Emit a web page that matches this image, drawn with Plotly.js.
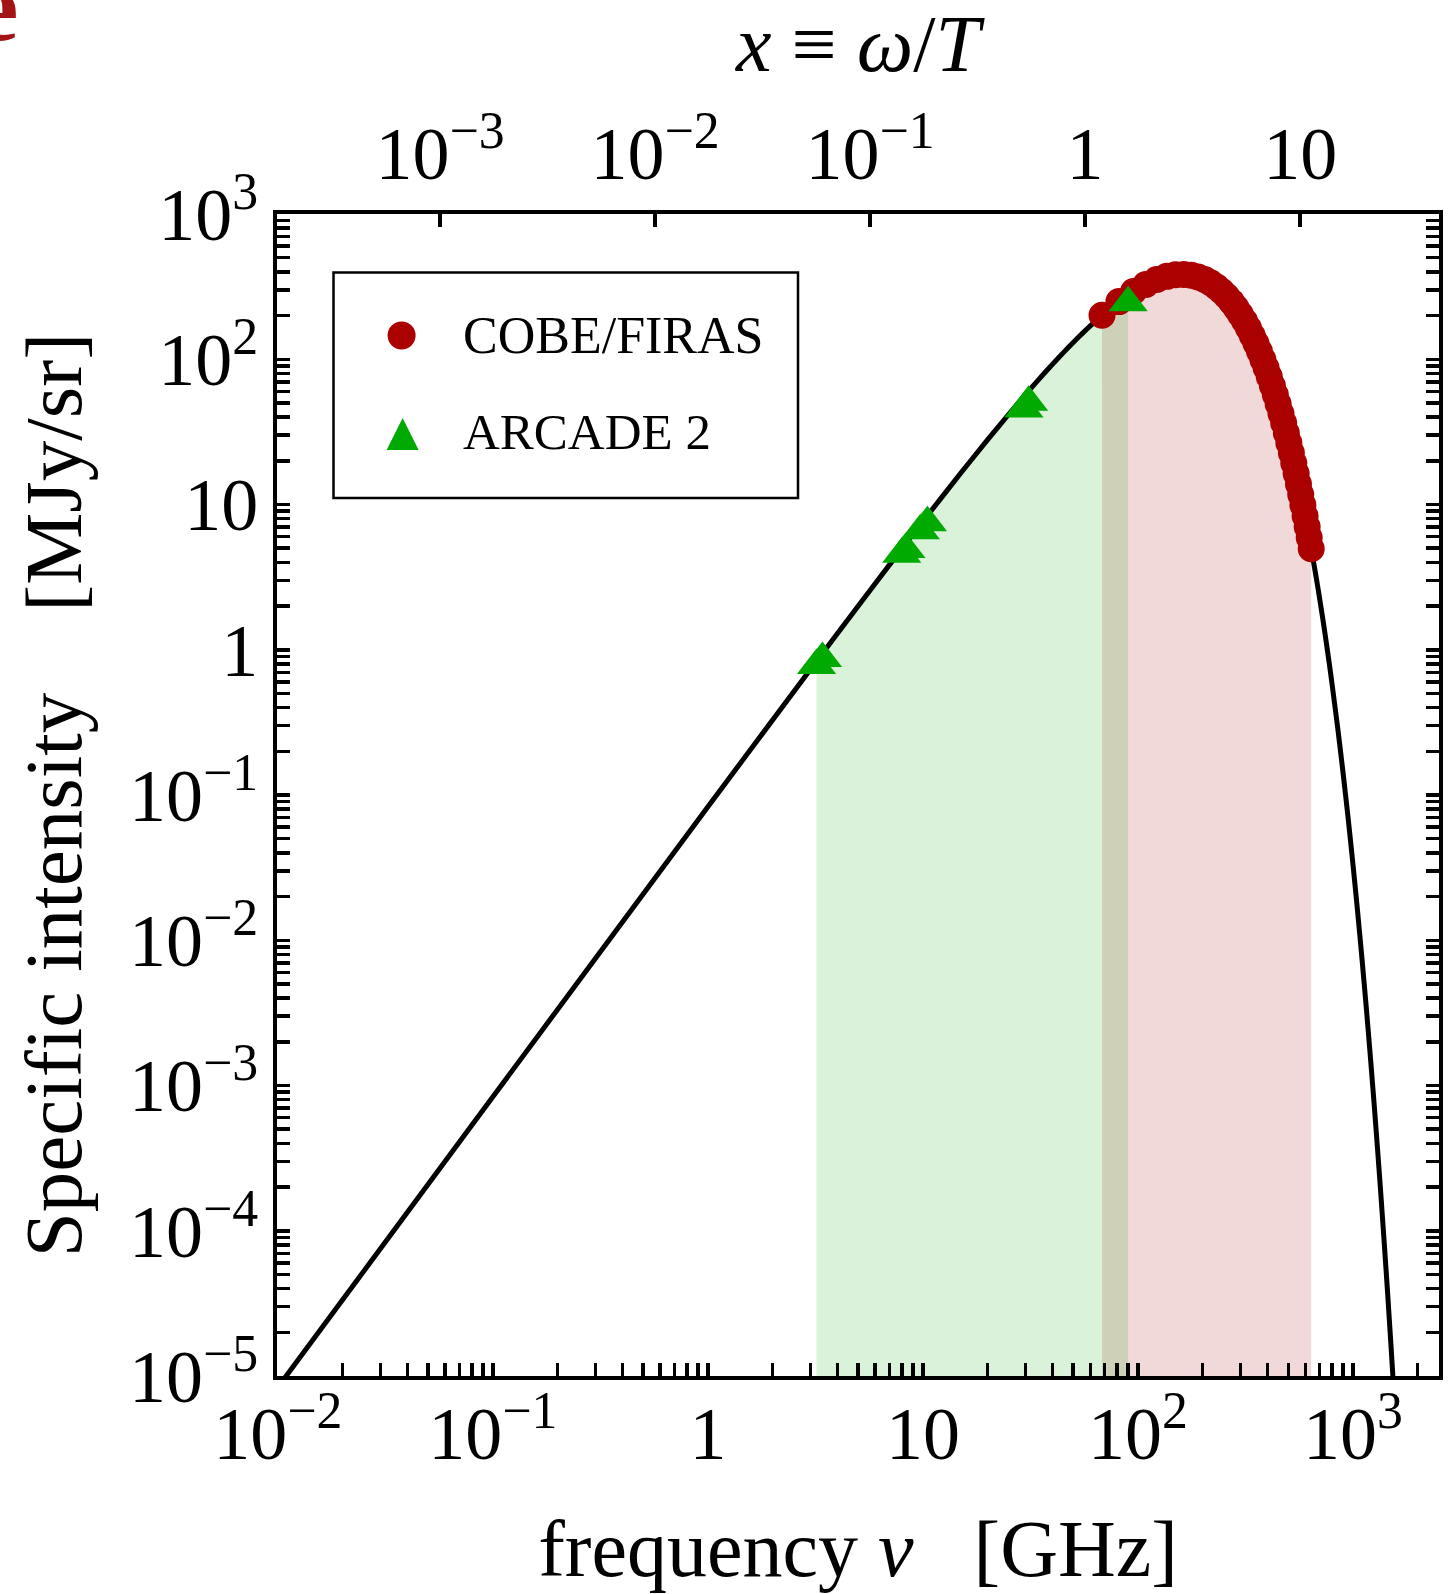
<!DOCTYPE html>
<html>
<head>
<meta charset="utf-8">
<script src="https://cdn.plot.ly/plotly-3.0.1.min.js"></script>
<style>
  html, body { margin: 0; padding: 0; background: #fff; }
  #chart { width: 1454px; height: 1594px; }
</style>
</head>
<body>
<div id="chart"></div>
<script>
// ---- Data ----
// Black curve: CMB spectrum, frequency [GHz] vs specific intensity [MJy/sr]
const curveFreq = [0.01, 0.1, 1, 3, 3.2, 5, 7, 10, 15, 20, 25, 30, 35, 40, 45, 50, 55, 60, 65, 68.05, 70, 75, 80, 85, 90, 100, 110, 120, 130, 140, 150, 160, 170, 180, 190, 200, 220, 250, 275, 300, 325, 350, 375, 400, 425, 450, 475, 500, 525, 550, 575, 600, 625, 639.45, 650, 675, 700, 725, 750, 775, 800, 850, 900, 950, 1000, 1050, 1100, 1150, 1200, 1250, 1300, 1350, 1400, 1450, 1500, 1550];
const curveInt  = [8.37e-6, 8.36e-4, 0.0830, 0.7337, 0.8334, 2.002, 3.855, 7.657, 16.459, 27.94, 41.648, 57.19, 74.18, 92.26, 111.14, 130.5, 150.10, 169.7, 189.06, 200.7, 208.1, 226.46, 244.2, 261.07, 277.1, 305.9, 330.4, 350.1, 365.2, 375.6, 381.68, 383.7, 381.95, 377.0, 369.15, 358.9, 332.9, 285.5, 243.58, 203.0, 165.9, 133.2, 105.45, 82.32, 63.62, 48.56, 36.81, 27.66, 20.62, 15.23, 11.222, 8.200, 5.975, 4.954, 4.321, 3.1206, 2.2385, 1.6032, 1.1409, 0.81195, 0.5743, 0.28598, 0.1404, 0.068602, 0.03310, 0.015917, 7.572e-3, 3.5933e-3, 1.690e-3, 7.9296e-4, 3.689e-4, 1.7164e-4, 7.918e-5, 3.6544e-5, 1.674e-5, 7.66e-6];

// COBE/FIRAS points
const firasFreq = [68.05, 81.54, 95.33, 108.82, 122.31, 136.10, 149.60, 163.39, 176.88, 190.37, 204.16, 217.65, 231.14, 244.93, 258.42, 272.21, 285.70, 299.19, 312.98, 326.47, 339.96, 353.75, 367.24, 381.03, 394.52, 408.01, 421.80, 435.30, 448.79, 462.58, 476.07, 489.86, 503.35, 516.84, 530.63, 544.12, 557.91, 571.40, 584.89, 598.68, 612.17, 625.66, 639.45];
const firasInt  = [200.7, 249.5, 293.0, 327.7, 354.0, 372.1, 381.5, 383.4, 378.8, 368.8, 354.1, 336.3, 316.1, 293.9, 271.4, 248.2, 225.9, 204.3, 183.2, 163.8, 145.8, 128.7, 113.5, 99.45, 87.02, 75.87, 65.75, 56.96, 49.22, 42.28, 36.34, 31.05, 26.56, 22.67, 19.24, 16.36, 13.83, 11.72, 9.911, 8.336, 7.028, 5.916, 4.954];

// ARCADE 2 points
const arcadeFreq = [3.20, 3.41, 7.97, 8.33, 9.72, 10.49, 29.5, 31.0, 90.0];
const arcadeInt  = [0.78, 0.87, 4.55, 4.9, 6.6, 7.5, 45.5, 50.5, 245];

// Axis ticks
const xTickVals = [0.01, 0.1, 1, 10, 100, 1000];
const xTickText = ['10<sup>\u22122</sup>', '10<sup>\u22121</sup>', '1', '10', '10<sup>2</sup>', '10<sup>3</sup>'];
const topTickVals = [0.001, 0.01, 0.1, 1, 10];
const topTickText = ['10<sup>\u22123</sup>', '10<sup>\u22122</sup>', '10<sup>\u22121</sup>', '1', '10'];
const yTickVals = [1e-5, 1e-4, 1e-3, 1e-2, 1e-1, 1, 10, 100, 1000];
const yTickText = ['10<sup>\u22125</sup>', '10<sup>\u22124</sup>', '10<sup>\u22123</sup>', '10<sup>\u22122</sup>', '10<sup>\u22121</sup>', '1', '10', '10<sup>2</sup>', '10<sup>3</sup>'];

const seriesNames = ['COBE/FIRAS', 'ARCADE 2'];
const firasColor = '#aa0000';
const arcadeColor = '#00aa00';

// GHz per unit of x = omega/T  (T = 2.725 K)
const ghzPerX = 56.78;

// ---- Geometry helpers (style, not data) ----
const xRangeLog = [-2.004, 3.40];
const yRangeLog = [-5, 3];
const floorY = 1e-6; // below the visible axis: fills reach the bottom frame

function minorTicks(lo, hi) {
  const v = [];
  for (let e = Math.floor(lo); e <= Math.ceil(hi); e++) {
    for (let m = 2; m <= 9; m++) {
      const t = m * Math.pow(10, e);
      const l = Math.log10(t);
      if (l > lo && l < hi) v.push(t);
    }
  }
  return v;
}

// fill regions
const arcLo = Math.min(...arcadeFreq), arcHi = Math.max(...arcadeFreq);
const gx = [], gy = [];
curveFreq.forEach((f, i) => { if (f >= arcLo && f <= arcHi) { gx.push(f); gy.push(curveInt[i]); } });
const greenX = gx.concat([arcHi, arcLo]);
const greenY = gy.concat([floorY, floorY]);
const redX = firasFreq.concat([firasFreq[firasFreq.length - 1], firasFreq[0]]);
const redY = firasInt.concat([floorY, floorY]);

const traces = [
  { x: redX, y: redY, mode: 'none', fill: 'toself', fillcolor: 'rgba(170,0,0,0.15)', hoverinfo: 'skip', showlegend: false },
  { x: greenX, y: greenY, mode: 'none', fill: 'toself', fillcolor: 'rgba(0,170,0,0.15)', hoverinfo: 'skip', showlegend: false },
  { x: curveFreq, y: curveInt, mode: 'lines', line: { color: 'black', width: 5, shape: 'spline', smoothing: 0.6 }, showlegend: false },
  { x: firasFreq, y: firasInt, mode: 'markers', name: seriesNames[0], marker: { color: firasColor, size: 27, symbol: 'circle' }, showlegend: false },
  { x: arcadeFreq, y: arcadeInt, mode: 'markers', name: seriesNames[1], marker: { color: arcadeColor, size: 34, symbol: 'triangle-up' }, showlegend: false },
  // empty trace so that the top x = omega/T axis is drawn
  { x: [], y: [], xaxis: 'x2', yaxis: 'y', mode: 'markers', showlegend: false, hoverinfo: 'skip' }
];

const serif = 'Liberation Serif, Times New Roman, serif';
const tickFont = { family: serif, size: 74, color: 'black' };
const L = 277, R = 15, T = 214, B = 218;
const W = 1454, H = 1594;
const pw = W - L - R, ph = H - T - B;
const px2x = p => (p - L) / pw;
const px2y = p => 1 - (p - T) / ph;

const layout = {
  width: W, height: H,
  margin: { l: L, r: R, t: T, b: B, pad: 0 },
  paper_bgcolor: 'white', plot_bgcolor: 'white',
  showlegend: false,
  font: { family: serif, color: 'black' },
  xaxis: {
    type: 'log', range: xRangeLog,
    tickmode: 'array', tickvals: xTickVals, ticktext: xTickText,
    ticks: 'inside', ticklen: 13, tickwidth: 3.5, tickcolor: 'black',
    minor: { tickmode: 'array', tickvals: minorTicks(xRangeLog[0], xRangeLog[1]), ticks: 'inside', ticklen: 13, tickwidth: 3.5, tickcolor: 'black', showgrid: false },
    showline: true, linewidth: 4, linecolor: 'black', mirror: false,
    showgrid: false, zeroline: false,
    tickfont: tickFont, ticklabelstandoff: -10,
    title: { text: 'frequency <i>\u03bd</i>\u00a0\u00a0\u00a0[GHz]', font: { family: serif, size: 80, color: 'black' }, standoff: 47 }
  },
  xaxis2: {
    type: 'log', overlaying: 'x', side: 'top', anchor: 'y',
    range: [xRangeLog[0] - Math.log10(ghzPerX), xRangeLog[1] - Math.log10(ghzPerX)],
    tickmode: 'array', tickvals: topTickVals, ticktext: topTickText,
    ticks: 'inside', ticklen: 13, tickwidth: 3.5, tickcolor: 'black',
    showline: true, linewidth: 4, linecolor: 'black',
    showgrid: false, zeroline: false,
    tickfont: tickFont, ticklabelstandoff: 1,
    title: { text: '<i>x</i> \u2261 <i>\u03c9</i>/<i>T</i>', font: { family: serif, size: 80, color: 'black' }, standoff: 25 }
  },
  yaxis: {
    type: 'log', range: yRangeLog,
    tickmode: 'array', tickvals: yTickVals, ticktext: yTickText,
    ticks: 'inside', ticklen: 13, tickwidth: 3.5, tickcolor: 'black',
    minor: { tickmode: 'array', tickvals: minorTicks(yRangeLog[0], yRangeLog[1]), ticks: 'inside', ticklen: 13, tickwidth: 3.5, tickcolor: 'black', showgrid: false },
    showline: true, linewidth: 4, linecolor: 'black', mirror: 'allticks',
    showgrid: false, zeroline: false,
    tickfont: tickFont, ticklabelstandoff: 0,
    title: { text: 'Specific intensity\u00a0\u00a0\u00a0\u00a0[MJy/sr]', font: { family: serif, size: 81, color: 'black' }, standoff: 22 }
  },
  shapes: [
    // legend frame
    { type: 'rect', xref: 'paper', yref: 'paper', x0: px2x(333.5), x1: px2x(798), y0: px2y(498), y1: px2y(272.5), line: { color: 'black', width: 2.5 }, fillcolor: 'white', layer: 'above' },
    // legend symbols
    { type: 'circle', xref: 'paper', yref: 'paper', xsizemode: 'pixel', ysizemode: 'pixel', xanchor: px2x(401.6), yanchor: px2y(335.5), x0: -14, x1: 14, y0: -14, y1: 14, fillcolor: firasColor, line: { width: 0 }, layer: 'above' },
    { type: 'path', xref: 'paper', yref: 'paper', xsizemode: 'pixel', ysizemode: 'pixel', xanchor: px2x(402.6), yanchor: px2y(434), path: 'M -16 -16 L 16 -16 L 0 16 Z', fillcolor: arcadeColor, line: { width: 0 }, layer: 'above' }
  ],
  annotations: [
    { xref: 'paper', yref: 'paper', x: px2x(460.6), y: px2y(335.5), xanchor: 'left', yanchor: 'middle', text: seriesNames[0], showarrow: false, font: { family: serif, size: 52, color: 'black' } },
    { xref: 'paper', yref: 'paper', x: px2x(460.6), y: px2y(432), xanchor: 'left', yanchor: 'middle', text: seriesNames[1], showarrow: false, font: { family: serif, size: 51, color: 'black' } },
    // cropped panel letter in the top-left corner
    { xref: 'paper', yref: 'paper', x: px2x(20), y: px2y(64), xanchor: 'right', yanchor: 'bottom', text: '<b>e</b>', showarrow: false, font: { family: serif, size: 100, color: '#a31515' } }
  ]
};

Plotly.newPlot('chart', traces, layout, { displayModeBar: false, staticPlot: true });
</script>
</body>
</html>
